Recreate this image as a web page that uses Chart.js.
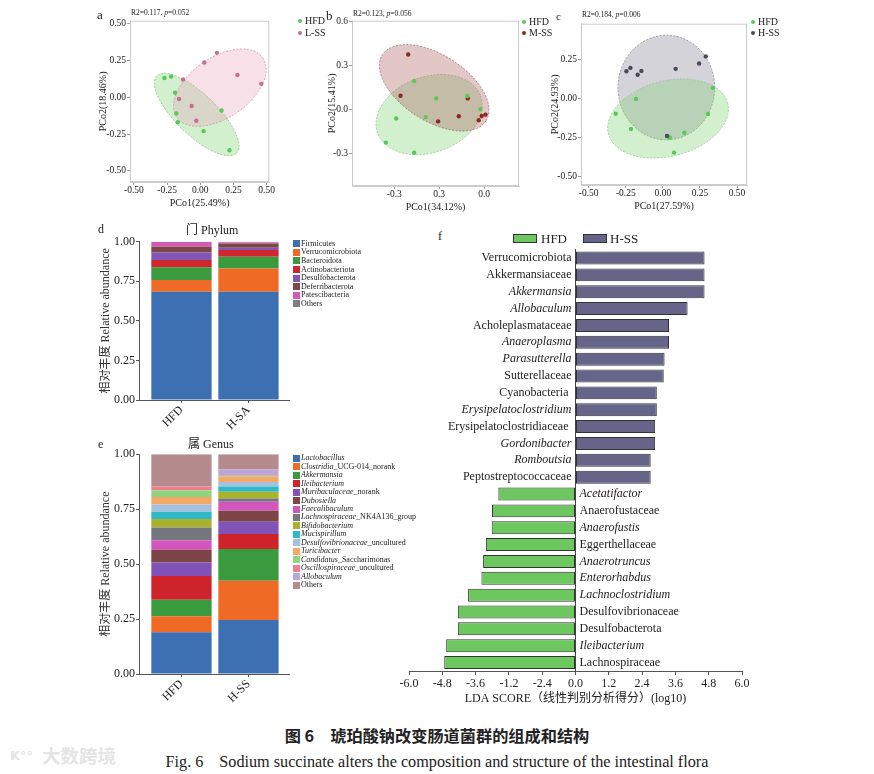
<!DOCTYPE html>
<html><head><meta charset="utf-8">
<script src="https://cdn.jsdelivr.net/npm/chart.js@4.4.1/dist/chart.umd.min.js"></script>
<style>
html,body{margin:0;padding:0;background:#fff;}
body{width:874px;height:774px;position:relative;overflow:hidden;font-family:'Liberation Serif','Times New Roman',serif;color:#222;}
canvas{position:absolute;}
.t{position:absolute;white-space:nowrap;line-height:1;transform:translateY(-50%);}
.sq{position:absolute;}
</style></head><body>

<canvas id="ca" width="178" height="195" style="left:97px;top:14px"></canvas>
<canvas id="cb" width="197" height="199" style="left:326px;top:14px"></canvas>
<canvas id="cc" width="202" height="195" style="left:549px;top:17px"></canvas>
<canvas id="cd" width="192" height="206" style="left:99px;top:229px"></canvas>
<canvas id="ce" width="192" height="266" style="left:99px;top:443px"></canvas>
<canvas id="cf" width="359" height="461" style="left:395px;top:245px"></canvas>

<div class="t" style="left:97px;top:14px;font-size:13px">a</div>
<div class="t" style="left:326px;top:15px;font-size:13px">b</div>
<div class="t" style="left:556px;top:16px;font-size:11px">c</div>
<div class="t" style="left:98px;top:229px;font-size:12px">d</div>
<div class="t" style="left:98px;top:444px;font-size:12px">e</div>
<div class="t" style="left:438px;top:236px;font-size:12px">f</div>

<div class="t" style="left:131px;top:13px;font-size:7.5px">R2=0.117, <i>p</i>=0.052</div>
<div class="t" style="left:353px;top:14px;font-size:7.5px">R2=0.123, <i>p</i>=0.056</div>
<div class="t" style="left:582px;top:15px;font-size:7.5px">R2=0.184, <i>p</i>=0.006</div>

<div class="t" style="left:186px;top:230px;font-size:12px;font-family:'Liberation Serif','Noto Sans CJK SC',serif">门 Phylum</div>
<div class="t" style="left:188px;top:444px;font-size:12px;font-family:'Liberation Serif','Noto Sans CJK SC',serif">属 Genus</div>

<div id="legs"></div>

<div class="t" style="left:0;width:874px;text-align:center;top:735px;font-size:16.2px;font-weight:700;font-family:'Noto Sans CJK SC',sans-serif">图 6　琥珀酸钠改变肠道菌群的组成和结构</div>
<div class="t" style="left:0;width:874px;text-align:center;top:762px;font-size:16.2px;font-family:'Liberation Serif',serif">Fig. 6　Sodium succinate alters the composition and structure of the intestinal flora</div>
<div class="t" style="left:10px;top:755px;font-size:13px;font-weight:700;color:#e4e4e4;font-family:'DejaVu Sans',sans-serif">K°°</div>
<div class="t" style="left:42px;top:755px;font-size:18.5px;font-weight:700;color:#e4e4e4;font-family:'Noto Sans CJK SC',sans-serif">大数跨境</div>

<script>
// ---------------- DATA ----------------
// Panel a (PCoA, HFD vs L-SS)
const pcoaA_HFD = [[-0.27,0.13],[-0.22,0.14],[-0.19,0.03],[-0.18,-0.11],[-0.17,-0.17],[0.16,-0.09],[0.025,-0.23],[0.22,-0.36]];
const pcoaA_LSS = [[0.125,0.30],[0.03,0.235],[0.28,0.15],[0.46,0.09],[-0.13,0.12],[-0.16,-0.013],[-0.065,-0.06],[-0.03,-0.16]];
// ellipse: centre x, centre y, half-axis 1 (dx,dy), half-axis 2 (dx,dy) in data units
const ellA_HFD = [-0.0275,-0.118,0.30,-0.262,0.109,0.098];
const ellA_LSS = [0.1475,0.064,0.3235,0.2016,0.132,-0.167];
const ticksA_x = [-0.5,-0.25,0,0.25,0.5];
const labelsA_x = ['-0.50','-0.25','0.00','0.25','0.50'];
const ticksA_y = [-0.5,-0.25,0,0.25,0.5];
const labelsA_y = ['-0.50','-0.25','0.00','0.25','0.50'];

// Panel b (PCoA, HFD vs M-SS)
const pcoaB_HFD = [[-0.467,0.195],[-0.32,0.076],[-0.389,-0.051],[-0.587,-0.06],[-0.656,-0.224],[-0.467,-0.293],[-0.113,0.092],[-0.024,0.004]];
const pcoaB_MSS = [[-0.507,0.374],[-0.558,0.094],[-0.109,0.076],[-0.307,-0.08],[-0.169,-0.045],[-0.036,-0.072],[-0.016,-0.043],[0.009,-0.034]];
const ellB_HFD = [-0.367,-0.034,0.344,0.126,0.0874,-0.2417];
const ellB_MSS = [-0.333,0.148,0.345,-0.2255,-0.121,-0.1877];
const ticksB_x = [-0.6,-0.3,0];
const labelsB_x = ['-0.3','0.3','0.0'];
const ticksB_y = [-0.3,0,0.3,0.6];
const labelsB_y = ['-0.3','0.0','0.3','0.6'];

// Panel c (PCoA, HFD vs H-SS)
const pcoaC_HFD = [[-0.318,-0.099],[-0.181,-0.004],[-0.215,-0.197],[0.046,-0.252],[0.145,-0.221],[0.075,-0.349],[0.304,-0.101],[0.336,0.067]];
const pcoaC_HSS = [[-0.246,0.174],[-0.219,0.195],[-0.17,0.151],[-0.145,0.176],[0.086,0.189],[0.244,0.223],[0.289,0.269],[0.028,-0.242]];
const ellC_HFD = [0.0348,-0.130,0.4016,0.1006,0.067,-0.2334];
const ellC_HSS = [0.0236,0.069,0.326,0,0,0.336];
const ticksC_x = [-0.5,-0.25,0,0.25,0.5];
const labelsC_x = ['-0.50','-0.25','0.00','0.25','0.50'];
const ticksC_y = [-0.5,-0.25,0,0.25];
const labelsC_y = ['-0.50','-0.25','0.00','0.25'];

// Panel d (phylum)
const phylumNames = ['Firmicutes','Verrucomicrobiota','Bacteroidota','Actinobacteriota','Desulfobacterota','Deferribacterota','Patescibacteria','Others'];
const phylumHFD = [0.684,0.074,0.080,0.046,0.048,0.036,0.032,0.0];
const phylumHSA = [0.684,0.147,0.074,0.042,0.015,0.027,0.006,0.005];
const phylumGroups = ['HFD','H-SA'];

// Panel e (genus)
const genusNames = ['Lactobacillus','Clostridia_UCG-014_norank','Akkermansia','Ileibacterium','Muribaculaceae_norank','Dubosiella','Faecalibaculum','Lachnospiraceae_NK4A136_group','Bifidobacterium','Mucispirillum','Desulfovibrionaceae_uncultured','Turicibacter','Candidatus_Saccharimonas','Oscillospiraceae_uncultured','Allobaculum','Others'];
const genusHFD = [0.190,0.073,0.075,0.108,0.061,0.059,0.043,0.058,0.038,0.033,0.033,0.035,0.030,0.018,0.0,0.146];
const genusHSS = [0.246,0.178,0.145,0.068,0.056,0.050,0.041,0.015,0.030,0.024,0.021,0.024,0.004,0.004,0.026,0.068];
const genusGroups = ['HFD','H-SS'];

// Panel f (LEfSe)
const ldaNames = ['Verrucomicrobiota','Akkermansiaceae','Akkermansia','Allobaculum','Acholeplasmataceae','Anaeroplasma','Parasutterella','Sutterellaceae','Cyanobacteria ','Erysipelatoclostridium','Erysipelatoclostridiaceae ','Gordonibacter','Romboutsia','Peptostreptococcaceae','Acetatifactor','Anaerofustaceae','Anaerofustis','Eggerthellaceae','Anaerotruncus','Enterorhabdus','Lachnoclostridium','Desulfovibrionaceae','Desulfobacterota','Ileibacterium','Lachnospiraceae'];
const ldaScores = [4.65,4.65,4.65,4.04,3.37,3.37,3.21,3.18,2.93,2.93,2.87,2.87,2.71,2.71,-2.78,-3.01,-3.02,-3.23,-3.33,-3.39,-3.87,-4.24,-4.24,-4.66,-4.73];
const ldaItalic = ['Akkermansia','Allobaculum','Anaeroplasma','Parasutterella','Erysipelatoclostridium','Gordonibacter','Romboutsia','Acetatifactor','Anaerofustis','Anaerotruncus','Enterorhabdus','Lachnoclostridium','Ileibacterium'];
const ldaTickValues = [-6,-4.8,-3.6,-2.4,-1.2,0,1.2,2.4,3.6,4.8,6];
const ldaTickLabels = ['-6.0','-4.8','-3.6','-1.2','-2.4','0.0','1.2','2.4','3.6','4.8','6.0'];

// ---------------- STYLE ----------------
const SERIF = "'Liberation Serif','Times New Roman',serif";
const MIXED = "'Liberation Serif','Noto Sans CJK SC',serif";
const C_HFD = '#58c957';
const phylumColors = ['#3d6fb3','#ef6a24','#3a9b3e','#d0262e','#8355b8','#7c4747','#d45ab6','#7f7f7f'];
const genusColors = ['#3d6fb3','#ef6a24','#3a9b3e','#cf232b','#8152b8','#7d4545','#d455be','#74777c','#aab22c','#2fb8c6','#a6c0e2','#f5a867','#8fd47f','#ee7f8f','#bca6d8','#b58b8d'];
const genusItalicPrefix = ['Lactobacillus','Clostridia','Akkermansia','Ileibacterium','Muribaculaceae','Dubosiella','Faecalibaculum','Lachnospiraceae','Bifidobacterium','Mucispirillum','Desulfovibrionaceae','Turicibacter','Candidatus','Oscillospiraceae','Allobaculum'];

Chart.defaults.font.family = SERIF;
Chart.defaults.color = '#222';

const ellipsePlugin = {
  id:'ellipses',
  beforeDatasetsDraw(chart, args, opts){
    const {ctx, scales:{x,y}} = chart;
    (opts.list||[]).forEach(el=>{
      const [cx,cy,ax,ay,bx,by] = el.e;
      ctx.save();
      ctx.beginPath();
      for(let i=0;i<=144;i++){
        const t=i/144*2*Math.PI;
        const px=x.getPixelForValue(cx+Math.cos(t)*ax+Math.sin(t)*bx);
        const py=y.getPixelForValue(cy+Math.cos(t)*ay+Math.sin(t)*by);
        if(i) ctx.lineTo(px,py); else ctx.moveTo(px,py);
      }
      ctx.closePath();
      ctx.fillStyle=el.fill; ctx.fill();
      ctx.setLineDash([2,1.5]); ctx.strokeStyle=el.stroke; ctx.lineWidth=0.8; ctx.stroke();
      ctx.restore();
    });
  }
};
const framePlugin = {
  id:'frame',
  afterDraw(chart, args, opts){
    if(!opts.color) return;
    const {ctx, chartArea:a} = chart;
    ctx.save(); ctx.strokeStyle=opts.color; ctx.lineWidth=1;
    ctx.strokeRect(a.left+0.5,a.top+0.5,a.right-a.left-1,a.bottom-a.top-1);
    ctx.restore();
  }
};

function makePcoa(id, groups, xr, yr, xt, xl, yt, yl, xTitle, yTitle, yW){
  return new Chart(document.getElementById(id), {
    type:'scatter',
    data:{datasets:groups.map(g=>({data:g.pts.map(p=>({x:p[0],y:p[1]})), backgroundColor:g.color, borderColor:g.color, borderWidth:0, pointRadius:2.2}))},
    options:{
      responsive:false, animation:false, events:[],
      layout:{padding:{top:4,right:4,left:0,bottom:0}},
      plugins:{legend:{display:false}, tooltip:{enabled:false},
        ellipses:{list:groups.map(g=>({e:g.ell, fill:g.fill, stroke:g.stroke}))},
        frame:{color:'#cccccc'}},
      scales:{
        x:{type:'linear', min:xr[0], max:xr[1],
          afterBuildTicks:s=>{s.ticks=xt.map(v=>({value:v}));},
          afterFit:s=>{s.height=27;},
          ticks:{callback:(v,i)=>xl[i], font:{family:SERIF,size:9.5}, color:'#222', padding:0, maxRotation:0, autoSkip:false},
          grid:{drawOnChartArea:false, tickLength:3, color:'#999'}, border:{color:'#cccccc'},
          title:{display:true, text:xTitle, font:{family:SERIF,size:10}, color:'#222', padding:0}},
        y:{type:'linear', min:yr[0], max:yr[1],
          afterBuildTicks:s=>{s.ticks=yt.map(v=>({value:v}));},
          afterFit:s=>{s.width=yW;},
          ticks:{callback:(v,i)=>yl[i], font:{family:SERIF,size:9.5}, color:'#222', padding:1, autoSkip:false},
          grid:{drawOnChartArea:false, tickLength:3, color:'#999'}, border:{color:'#cccccc'},
          title:{display:true, text:yTitle, font:{family:SERIF,size:10}, color:'#222', padding:0}}
      }
    },
    plugins:[ellipsePlugin, framePlugin]
  });
}

makePcoa('ca', [
  {pts:pcoaA_HFD, ell:ellA_HFD, color:C_HFD, fill:'rgba(125,210,115,0.35)', stroke:'#8fbf88'},
  {pts:pcoaA_LSS, ell:ellA_LSS, color:'#c76e93', fill:'rgba(232,165,190,0.35)', stroke:'#c99aa8'}
], [-0.53,0.52], [-0.575,0.518], ticksA_x, labelsA_x, ticksA_y, labelsA_y, 'PCo1(25.49%)', 'PCo2(18.46%)', 33);

makePcoa('cb', [
  {pts:pcoaB_HFD, ell:ellB_HFD, color:C_HFD, fill:'rgba(125,210,115,0.35)', stroke:'#9cc596'},
  {pts:pcoaB_MSS, ell:ellB_MSS, color:'#8a2a24', fill:'rgba(175,95,95,0.35)', stroke:'#9a7070'}
], [-0.882,0.233], [-0.519,0.604], ticksB_x, labelsB_x, ticksB_y, labelsB_y, 'PCo1(34.12%)', 'PCo2(15.41%)', 26);

makePcoa('cc', [
  {pts:pcoaC_HSS, ell:ellC_HSS, color:'#4b4a5a', fill:'rgba(150,145,162,0.4)', stroke:'#8a8a8a'},
  {pts:pcoaC_HFD, ell:ellC_HFD, color:C_HFD, fill:'rgba(125,210,115,0.35)', stroke:'#9cc596'}
], [-0.552,0.567], [-0.557,0.479], ticksC_x, labelsC_x, ticksC_y, labelsC_y, 'PCo1(27.59%)', 'PCo2(24.93%)', 32);

function makeStack(id, names, colors, v1, v2, cats, padTop){
  return new Chart(document.getElementById(id), {
    type:'bar',
    data:{datasets:names.map((n,k)=>({label:n, data:[{x:1,y:v1[k]},{x:2,y:v2[k]}], backgroundColor:colors[k], borderWidth:0, barPercentage:0.9, categoryPercentage:1}))},
    options:{
      responsive:false, animation:false, events:[],
      layout:{padding:{top:padTop,right:2,left:0,bottom:0}},
      plugins:{legend:{display:false}, tooltip:{enabled:false}},
      scales:{
        x:{type:'linear', stacked:true, offset:false, min:0.366, max:2.605,
          afterBuildTicks:s=>{s.ticks=[{value:1},{value:2}];},
          afterFit:s=>{s.height=35;},
          ticks:{callback:(v,i)=>cats[i], minRotation:45, maxRotation:45, font:{family:SERIF,size:12}, color:'#222', padding:0, autoSkip:false},
          grid:{drawOnChartArea:false, offset:false, tickLength:3, color:'#555'}, border:{color:'#555'}},
        y:{stacked:true, min:0, max:1,
          afterBuildTicks:s=>{s.ticks=[0,0.25,0.5,0.75,1].map(v=>({value:v}));},
          afterFit:s=>{s.width=40;},
          ticks:{callback:v=>v.toFixed(2), font:{family:SERIF,size:12}, color:'#222', padding:1},
          grid:{drawOnChartArea:false, tickLength:3, color:'#555'}, border:{color:'#555'},
          title:{display:true, text:'相对丰度 Relative abundance', font:{family:MIXED,size:12}, color:'#333', padding:0}}
      }
    }
  });
}
makeStack('cd', phylumNames, phylumColors, phylumHFD, phylumHSA, phylumGroups, 12.7);
makeStack('ce', genusNames, genusColors, genusHFD, genusHSS, genusGroups, 11.3);

const ldaLabelPlugin = {
  id:'ldaLabels',
  afterDatasetsDraw(chart){
    const {ctx, scales:{x,y}} = chart;
    const x0 = x.getPixelForValue(0);
    ctx.save(); ctx.textBaseline='middle'; ctx.fillStyle='#222';
    ldaNames.forEach((n,i)=>{
      const it = ldaItalic.includes(n.trim());
      ctx.font = (it?'italic ':'')+'12px '+SERIF;
      const py = y.getPixelForValue(i);
      if(ldaScores[i]>=0){ctx.textAlign='right'; ctx.fillText(n, x0-4, py);}
      else {ctx.textAlign='left'; ctx.fillText(n, x0+4, py);}
    });
    ctx.restore();
  }
};

new Chart(document.getElementById('cf'), {
  type:'bar',
  data:{labels:ldaNames, datasets:[{data:ldaScores, backgroundColor:ldaScores.map(v=>v<0?'#6cc75e':'#67648a'), borderColor:'#333', borderWidth:1, borderSkipped:false, barPercentage:0.77, categoryPercentage:1}]},
  options:{
    indexAxis:'y', responsive:false, animation:false, events:[],
    layout:{padding:{top:4.6,right:12,left:14,bottom:0}},
    plugins:{legend:{display:false}, tooltip:{enabled:false}},
    scales:{
      x:{type:'linear', min:-6, max:6,
        afterBuildTicks:s=>{s.ticks=ldaTickValues.map(v=>({value:v}));},
        afterFit:s=>{s.height=35;},
        ticks:{callback:(v,i)=>ldaTickLabels[i], font:{family:SERIF,size:12}, color:'#222', padding:2, maxRotation:0, autoSkip:false},
        grid:{drawOnChartArea:false, tickLength:4, color:'#555'}, border:{color:'#555'},
        title:{display:true, text:'LDA SCORE（线性判别分析得分）(log10)', font:{family:MIXED,size:12}, color:'#222', padding:0}},
      y:{position:{x:0}, afterFit:s=>{s.width=0;}, ticks:{display:false}, grid:{display:false}, border:{display:true, color:'#444'}}
    }
  },
  plugins:[ldaLabelPlugin]
});

// ---------------- LEGENDS (HTML text) ----------------
const legs = document.getElementById('legs');
function addText(x, y, html, style){const d=document.createElement('div'); d.className='t'; d.style.left=x+'px'; d.style.top=y+'px'; d.style.cssText += style||''; d.innerHTML=html; legs.appendChild(d);}
function addSq(x, y, w, h, color, style){const d=document.createElement('div'); d.className='sq'; d.style.left=x+'px'; d.style.top=y+'px'; d.style.width=w+'px'; d.style.height=h+'px'; d.style.background=color; d.style.cssText += style||''; legs.appendChild(d);}
function dotLegend(x, y1, y2, c1, t1, c2, t2){
  addSq(x-2, y1-2, 4, 4, c1, 'border-radius:50%');
  addSq(x-2, y2-2, 4, 4, c2, 'border-radius:50%');
  addText(x+5, y1, t1, 'font-size:10px');
  addText(x+5, y2, t2, 'font-size:10px');
}
dotLegend(300, 21, 33, C_HFD, 'HFD', '#c76e93', 'L-SS');
dotLegend(524, 22, 33, C_HFD, 'HFD', '#8a2a24', 'M-SS');
dotLegend(753, 22, 33, C_HFD, 'HFD', '#4b4a5a', 'H-SS');

phylumNames.forEach((n,k)=>{
  const y = 243.7 + k*8.6;
  addSq(293, y-3.5, 7, 7, phylumColors[k]);
  addText(301, y, n, 'font-size:8px');
});
genusNames.forEach((n,k)=>{
  const y = 458.3 + k*8.45;
  addSq(293, y-3.5, 7, 7, genusColors[k]);
  const p = genusItalicPrefix.find(s=>n.startsWith(s));
  const html = p ? '<i>'+p+'</i>'+n.slice(p.length) : n;
  addText(301, y, html, 'font-size:8px');
});
addSq(513, 233.5, 24, 9, '#6cc75e', 'border:1px solid #333;box-sizing:border-box');
addText(541, 238, 'HFD', 'font-size:13px');
addSq(583, 233.5, 24, 9, '#67648a', 'border:1px solid #333;box-sizing:border-box');
addText(610, 238, 'H-SS', 'font-size:13px');
</script>
</body></html>
